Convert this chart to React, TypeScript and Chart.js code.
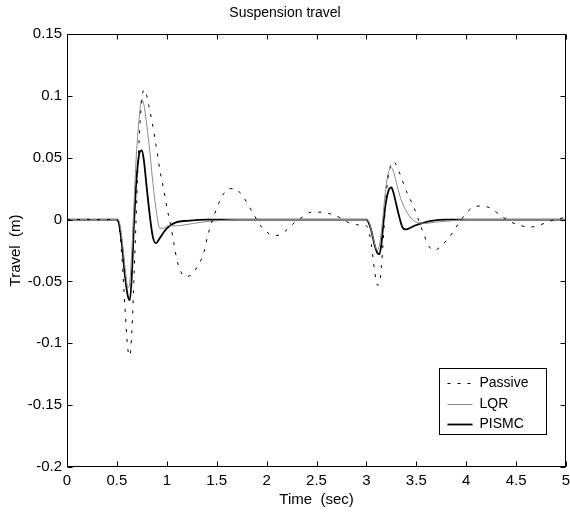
import React, { useEffect, useRef } from 'react';
import { Chart, registerables } from 'chart.js';

Chart.register(...registerables);

const FONT = '"Liberation Sans", Arial, Helvetica, sans-serif';

// ---- data (time in s, travel in m) ----
const passiveT = [0, 0.5, 0.52, 0.55, 0.58, 0.61, 0.63, 0.65, 0.67, 0.69, 0.71, 0.73, 0.75, 0.77, 0.79, 0.82, 0.85, 0.88, 0.91, 0.93, 0.97, 1.0, 1.04, 1.07, 1.1, 1.14, 1.18, 1.24, 1.3, 1.37, 1.41, 1.46, 1.52, 1.57, 1.62, 1.68, 1.76, 1.85, 1.94, 2.0, 2.07, 2.14, 2.22, 2.3, 2.36, 2.45, 2.55, 2.66, 2.75, 2.81, 2.9, 2.97, 3.0, 3.02, 3.05, 3.08, 3.11, 3.13, 3.15, 3.17, 3.19, 3.21, 3.24, 3.27, 3.3, 3.34, 3.4, 3.47, 3.53, 3.58, 3.63, 3.68, 3.74, 3.8, 3.86, 3.95, 4.05, 4.15, 4.25, 4.35, 4.45, 4.55, 4.65, 4.75, 4.85, 5.0];
const passiveY = [0, 0, -0.005, -0.03, -0.07, -0.105, -0.11, -0.09, -0.05, -0.005, 0.04, 0.075, 0.097, 0.105, 0.103, 0.092, 0.08, 0.066, 0.051, 0.04, 0.024, 0.01, -0.005, -0.019, -0.032, -0.042, -0.046, -0.045, -0.039, -0.027, -0.013, 0.0, 0.013, 0.021, 0.025, 0.025, 0.019, 0.007, -0.005, -0.01, -0.013, -0.012, -0.007, -0.001, 0.002, 0.006, 0.006, 0.004, 0.001, -0.002, -0.004, -0.005, -0.005, -0.008, -0.02, -0.04, -0.053, -0.052, -0.038, -0.015, 0.01, 0.03, 0.043, 0.047, 0.044, 0.036, 0.023, 0.011, -0.002, -0.013, -0.022, -0.025, -0.022, -0.017, -0.011, 0.0, 0.009, 0.011, 0.009, 0.003, -0.002, -0.005, -0.006, -0.004, -0.001, 0.002];

const lqrT = [0, 0.5, 0.53, 0.56, 0.59, 0.61, 0.63, 0.65, 0.67, 0.69, 0.71, 0.73, 0.75, 0.77, 0.8, 0.83, 0.86, 0.9, 0.93, 0.97, 1.01, 1.1, 1.2, 1.36, 1.5, 1.7, 3.0, 3.03, 3.06, 3.09, 3.11, 3.13, 3.15, 3.17, 3.19, 3.21, 3.23, 3.25, 3.27, 3.3, 3.34, 3.38, 3.43, 3.5, 3.6, 3.7, 3.85, 4.0, 5.0];
const lqrY = [0, 0, -0.004, -0.022, -0.045, -0.055, -0.05, -0.025, 0.01, 0.045, 0.07, 0.088, 0.097, 0.093, 0.076, 0.055, 0.03, 0.004, -0.007, -0.007, -0.005, -0.005, -0.004, -0.002, -0.001, 0, 0, -0.003, -0.012, -0.022, -0.025, -0.021, -0.01, 0.006, 0.022, 0.034, 0.04, 0.042, 0.039, 0.03, 0.018, 0.01, 0.003, -0.002, -0.003, -0.002, -0.001, 0, 0];

const pismcT = [0, 0.5, 0.52, 0.55, 0.58, 0.61, 0.63, 0.65, 0.67, 0.69, 0.71, 0.73, 0.75, 0.77, 0.8, 0.83, 0.86, 0.89, 0.93, 0.98, 1.03, 1.1, 1.2, 1.4, 3.0, 3.02, 3.05, 3.08, 3.11, 3.13, 3.15, 3.17, 3.19, 3.21, 3.23, 3.25, 3.27, 3.3, 3.33, 3.36, 3.39, 3.43, 3.48, 3.55, 3.65, 3.8, 5.0];
const pismcY = [0, 0, -0.003, -0.02, -0.045, -0.062, -0.065, -0.045, -0.005, 0.025, 0.045, 0.055, 0.056, 0.048, 0.025, 0.003, -0.014, -0.019, -0.015, -0.009, -0.005, -0.002, -0.001, 0, 0, -0.002, -0.009, -0.02, -0.027, -0.028, -0.02, -0.003, 0.011, 0.02, 0.025, 0.026, 0.022, 0.012, 0.002, -0.006, -0.008, -0.007, -0.005, -0.003, -0.001, 0, 0];

const xTicks = [0, 0.5, 1, 1.5, 2, 2.5, 3, 3.5, 4, 4.5, 5];
const yTicks = [-0.2, -0.15, -0.1, -0.05, 0, 0.05, 0.1, 0.15];
const seriesNames = ['Passive', 'LQR', 'PISMC'];

const titleText = 'Suspension travel';
const xTitle = 'Time  (sec)';
const yTitle = 'Travel  (m)';

const LQR_COLOR = '#8a8a8a';
const PASSIVE_DASH = [3, 7];

const toPoints = (t: number[], y: number[]) => t.map((x, i) => ({ x, y: y[i] }));

const boxPlugin = {
  id: 'matlabBox',
  afterDatasetsDraw(chart: any) {
    const { ctx, chartArea, scales } = chart;
    const { left, right, top, bottom } = chartArea;
    const xs = scales.x;
    const ys = scales.y;
    ctx.save();
    ctx.strokeStyle = '#000';
    ctx.lineWidth = 1;
    ctx.setLineDash([]);
    const L = Math.round(left) + 0.5;
    const R = Math.round(right) - 0.5;
    const T = Math.round(top) + 0.5;
    const B = Math.round(bottom) - 0.5;
    ctx.strokeRect(L, T, R - L, B - T);
    const tl = 5;
    ctx.beginPath();
    xTicks.forEach((v) => {
      const px = Math.round(xs.getPixelForValue(v)) + 0.5;
      ctx.moveTo(px, B);
      ctx.lineTo(px, B - tl);
      ctx.moveTo(px, T);
      ctx.lineTo(px, T + tl);
    });
    yTicks.forEach((v) => {
      const py = Math.round(ys.getPixelForValue(v)) + 0.5;
      ctx.moveTo(L, py);
      ctx.lineTo(L + tl, py);
      ctx.moveTo(R, py);
      ctx.lineTo(R - tl, py);
    });
    ctx.stroke();

    // legend box
    const bw = 107;
    const bh = 66;
    const bx = Math.round(right) - 20 - bw + 0.5;
    const by = Math.round(bottom) - 33 - bh + 0.5;
    ctx.fillStyle = '#fff';
    ctx.fillRect(bx, by, bw, bh);
    ctx.strokeRect(bx, by, bw, bh);
    const rows = [15, 36, 56];
    const styles = [
      { color: '#000', width: 1, dash: PASSIVE_DASH },
      { color: LQR_COLOR, width: 1, dash: [] as number[] },
      { color: '#000', width: 1.8, dash: [] as number[] },
    ];
    ctx.font = `14px ${FONT}`;
    ctx.textBaseline = 'middle';
    ctx.textAlign = 'left';
    seriesNames.forEach((name, i) => {
      const yy = by + rows[i];
      const s = styles[i];
      ctx.beginPath();
      ctx.strokeStyle = s.color;
      ctx.lineWidth = s.width;
      ctx.setLineDash(s.dash);
      ctx.moveTo(bx + 8, yy);
      ctx.lineTo(bx + 33, yy);
      ctx.stroke();
      ctx.setLineDash([]);
      ctx.fillStyle = '#000';
      ctx.fillText(name, bx + 40, yy);
    });
    ctx.restore();
  },
};

export default function App() {
  const ref = useRef<HTMLCanvasElement | null>(null);

  useEffect(() => {
    if (!ref.current) return;
    const chart = new Chart(ref.current, {
      type: 'line',
      data: {
        datasets: [
          {
            label: seriesNames[0],
            data: toPoints(passiveT, passiveY),
            borderColor: '#000',
            borderWidth: 1,
            borderDash: PASSIVE_DASH,
            pointRadius: 0,
            cubicInterpolationMode: 'monotone',
            fill: false,
          },
          {
            label: seriesNames[1],
            data: toPoints(lqrT, lqrY),
            borderColor: LQR_COLOR,
            borderWidth: 1,
            pointRadius: 0,
            cubicInterpolationMode: 'monotone',
            fill: false,
          },
          {
            label: seriesNames[2],
            data: toPoints(pismcT, pismcY),
            borderColor: '#000',
            borderWidth: 1.8,
            pointRadius: 0,
            cubicInterpolationMode: 'monotone',
            fill: false,
          },
        ],
      },
      options: {
        responsive: false,
        animation: false,
        events: [],
        layout: { padding: { left: 0, right: 0, top: 0, bottom: 0 } },
        plugins: {
          legend: { display: false },
          tooltip: { enabled: false },
          title: {
            display: true,
            text: titleText,
            color: '#000',
            font: { family: FONT, size: 14, weight: 'normal' },
            padding: { top: 5, bottom: 12.2 },
          },
        },
        scales: {
          x: {
            type: 'linear',
            min: 0,
            max: 5,
            afterBuildTicks: (s: any) => {
              s.ticks = xTicks.map((v) => ({ value: v }));
            },
            afterFit: (s: any) => {
              s.height = 48;
              s.paddingRight = 4;
              s.paddingLeft = 0;
            },
            ticks: {
              color: '#000',
              font: { family: FONT, size: 15 },
              padding: 5,
              maxRotation: 0,
              autoSkip: false,
              callback: (v: any) => String(v),
            },
            grid: { display: false, drawTicks: false },
            border: { display: false },
            title: {
              display: true,
              text: xTitle,
              color: '#000',
              font: { family: FONT, size: 15 },
              padding: { top: 0, bottom: 6 },
            },
          },
          y: {
            type: 'linear',
            min: -0.2,
            max: 0.15,
            afterBuildTicks: (s: any) => {
              s.ticks = yTicks.map((v) => ({ value: v }));
            },
            afterFit: (s: any) => {
              s.width = 67;
            },
            ticks: {
              color: '#000',
              font: { family: FONT, size: 15 },
              padding: 5,
              autoSkip: false,
              callback: (v: any) => String(v),
            },
            grid: { display: false, drawTicks: false },
            border: { display: false },
            title: {
              display: true,
              text: yTitle,
              color: '#000',
              font: { family: FONT, size: 15 },
              padding: { top: 7, bottom: 0 },
            },
          },
        },
      },
      plugins: [boxPlugin],
    });
    return () => chart.destroy();
  }, []);

  return (
    <div style={{ position: 'fixed', left: 0, top: 0, width: 570, height: 515, background: '#fff' }}>
      <canvas ref={ref} width={570} height={515} style={{ display: 'block', width: 570, height: 515 }} />
    </div>
  );
}
